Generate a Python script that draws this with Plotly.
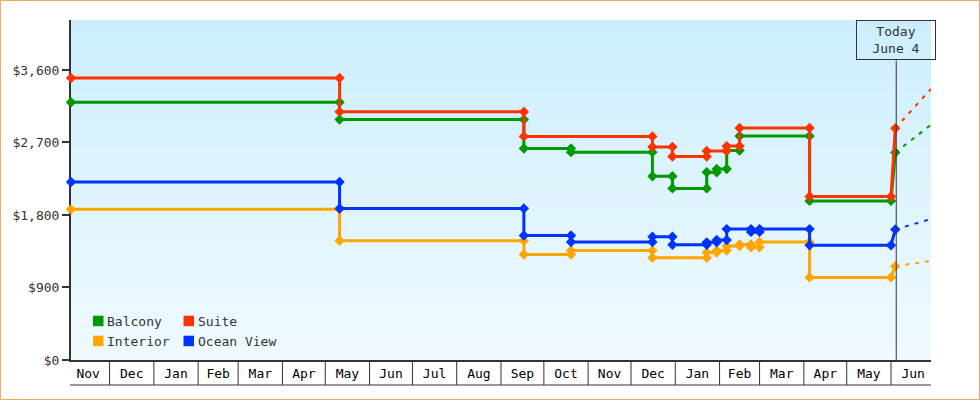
import base64, zlib, struct
import pandas as pd
import plotly.graph_objects as go

# ---------------- data ----------------
balcony_dates = ["2016-11-04", "2017-05-11", "2017-05-11", "2017-09-17", "2017-09-17",
                 "2017-10-20", "2017-10-20", "2017-12-16", "2017-12-16", "2017-12-30",
                 "2017-12-30", "2018-01-23", "2018-01-23", "2018-01-30", "2018-01-30",
                 "2018-02-06", "2018-02-06", "2018-02-15", "2018-02-15", "2018-04-05",
                 "2018-04-05", "2018-06-01", "2018-06-04"]
balcony_prices = [3200, 3200, 2985, 2985, 2625, 2625, 2580, 2580, 2280, 2280, 2130, 2130,
                  2330, 2330, 2370, 2370, 2600, 2600, 2780, 2780, 1975, 1975, 2575]

suite_dates = ["2016-11-04", "2017-05-11", "2017-05-11", "2017-09-17", "2017-09-17",
               "2017-12-16", "2017-12-16", "2017-12-30", "2017-12-30", "2018-01-23",
               "2018-01-23", "2018-02-06", "2018-02-06", "2018-02-15", "2018-02-15",
               "2018-04-05", "2018-04-05", "2018-06-01", "2018-06-04"]
suite_prices = [3500, 3500, 3080, 3080, 2775, 2775, 2645, 2645, 2525, 2525, 2595, 2595,
                2655, 2655, 2880, 2880, 2030, 2030, 2875]

interior_dates = ["2016-11-04", "2017-05-11", "2017-05-11", "2017-09-17", "2017-09-17",
                  "2017-10-20", "2017-10-20", "2017-12-16", "2017-12-16", "2018-01-23",
                  "2018-01-23", "2018-01-30", "2018-01-30", "2018-02-06", "2018-02-06",
                  "2018-02-15", "2018-02-15", "2018-02-23", "2018-02-23", "2018-03-01",
                  "2018-03-01", "2018-04-05", "2018-04-05", "2018-06-01", "2018-06-04"]
interior_prices = [1870, 1870, 1480, 1480, 1310, 1310, 1360, 1360, 1270, 1270, 1335, 1335,
                   1360, 1360, 1415, 1415, 1435, 1435, 1400, 1400, 1465, 1465, 1025, 1025, 1165]

ocean_dates = ["2016-11-04", "2017-05-11", "2017-05-11", "2017-09-17", "2017-09-17",
               "2017-10-20", "2017-10-20", "2017-12-16", "2017-12-16", "2017-12-30",
               "2017-12-30", "2018-01-23", "2018-01-23", "2018-01-30", "2018-01-30",
               "2018-02-06", "2018-02-06", "2018-02-23", "2018-02-23", "2018-03-01",
               "2018-03-01", "2018-04-05", "2018-04-05", "2018-06-01", "2018-06-04"]
ocean_prices = [2210, 2210, 1880, 1880, 1545, 1545, 1465, 1465, 1530, 1530, 1430, 1430,
                1460, 1460, 1490, 1490, 1625, 1625, 1590, 1590, 1625, 1625, 1425, 1425, 1620]

projection_end_date = "2018-06-29"
projection_end_prices = {"Balcony": 2920, "Suite": 3365, "Interior": 1230, "Ocean View": 1750}

series_names = ["Balcony", "Interior", "Suite", "Ocean View"]
series_colors = {"Balcony": "#009900", "Suite": "#ff3300", "Interior": "#ffa500", "Ocean View": "#0033ff"}
series_data = {
    "Balcony": (balcony_dates, balcony_prices),
    "Suite": (suite_dates, suite_prices),
    "Interior": (interior_dates, interior_prices),
    "Ocean View": (ocean_dates, ocean_prices),
}
legend_order = ["Balcony", "Suite", "Interior", "Ocean View"]

y_ticks = [0, 900, 1800, 2700, 3600]
y_tick_labels = ["$0", "$900", "$1,800", "$2,700", "$3,600"]
x_range = ["2016-11-04", "2018-06-29"]
y_range = [0, 4220]
today = "2018-06-04 16:00"
today_text = "Today<br>June 4"

# ---------------- layout geometry ----------------
W, H = 980, 400
ML, MR, MT, MB = 71, 49, 20, 40
PW, PH = W - ML - MR, H - MT - MB
FONT = "DejaVu Sans Mono"
TXT = "#333333"


def px_x(px):
    return (px - ML) / PW


def px_y(py):
    return (H - MB - py) / PH


def gradient_png(top, bottom, n=256):
    rows = b""
    for i in range(n):
        t = i / (n - 1)
        c = bytes(int(round(top[k] + (bottom[k] - top[k]) * t)) for k in range(3))
        rows += b"\x00" + c
    def chunk(tag, data):
        return struct.pack(">I", len(data)) + tag + data + struct.pack(">I", zlib.crc32(tag + data) & 0xffffffff)
    png = (b"\x89PNG\r\n\x1a\n" + chunk(b"IHDR", struct.pack(">IIBBBBB", 1, n, 8, 2, 0, 0, 0))
           + chunk(b"IDAT", zlib.compress(rows)) + chunk(b"IEND", b""))
    return "data:image/png;base64," + base64.b64encode(png).decode()


fig = go.Figure()

for name in series_names:
    d, p = series_data[name]
    fig.add_trace(go.Scatter(
        x=d, y=p, mode="lines+markers", name=name, showlegend=False,
        line=dict(color=series_colors[name], width=3),
        marker=dict(symbol="diamond", size=8, color=series_colors[name]),
        cliponaxis=False, hoverinfo="x+y+name",
    ))
    fig.add_trace(go.Scatter(
        x=[d[-1], projection_end_date], y=[p[-1], projection_end_prices[name]],
        mode="lines", showlegend=False, hoverinfo="skip",
        line=dict(color=series_colors[name], width=2, dash="4px,6px"),
    ))

# month box separators below the axis
month_starts = pd.date_range("2016-12-01", "2018-06-01", freq="MS")
shapes = []
for m in month_starts:
    shapes.append(dict(type="line", xref="x", yref="paper", x0=m, x1=m,
                       y0=0, y1=px_y(385), line=dict(color=TXT, width=1)))
shapes.append(dict(type="line", xref="paper", yref="paper", x0=px_x(70), x1=1,
                   y0=px_y(385), y1=px_y(385), line=dict(color=TXT, width=1)))
# today line
shapes.append(dict(type="line", xref="x", yref="paper", x0=today, x1=today,
                   y0=0, y1=px_y(60.5), line=dict(color=TXT, width=1)))
# outer border
shapes.append(dict(type="rect", xref="paper", yref="paper",
                   x0=px_x(0.5), x1=px_x(W - 0.5), y0=px_y(H - 0.5), y1=px_y(0.5),
                   line=dict(color="#e8a868", width=1), fillcolor="rgba(0,0,0,0)"))

annotations = [dict(xref="x", yref="paper", x=today, y=1, xanchor="center", yanchor="top",
                    text=today_text, showarrow=False, width=78, height=38, borderpad=0,
                    bordercolor=TXT, borderwidth=1, align="center",
                    font=dict(family=FONT, size=13, color=TXT))]

# manual legend (2 columns)
for i, name in enumerate(legend_order):
    col, row = i % 2, i // 2
    sx = 93 + col * 90.5
    sy = 315.7 + row * 20
    shapes.append(dict(type="rect", xref="paper", yref="paper",
                       x0=px_x(sx), x1=px_x(sx + 10.5), y0=px_y(sy + 10.5), y1=px_y(sy),
                       line=dict(width=0), fillcolor=series_colors[name]))
    annotations.append(dict(xref="paper", yref="paper", x=px_x(sx + 12), y=px_y(sy + 5.5),
                            xanchor="left", yanchor="middle", text=name, showarrow=False,
                            font=dict(family=FONT, size=13, color=TXT)))

fig.update_layout(
    width=W, height=H,
    margin=dict(l=ML, r=MR, t=MT, b=MB, autoexpand=False),
    paper_bgcolor="white", plot_bgcolor="rgba(0,0,0,0)",
    font=dict(family=FONT, size=13, color=TXT),
    showlegend=False,
    shapes=shapes, annotations=annotations,
    images=[dict(source=gradient_png((204, 238, 252), (240, 250, 255)),
                 xref="paper", yref="paper", x=0, y=1, sizex=1, sizey=1,
                 xanchor="left", yanchor="top", sizing="stretch", layer="below")],
    xaxis=dict(type="date", range=x_range, showgrid=False, zeroline=False,
               showline=True, linecolor=TXT, linewidth=2, ticks="",
               dtick="M1", tick0="2016-11-01", ticklabelmode="period", tickformat="%b",
               tickfont=dict(family=FONT, size=13, color="#000000"), layer="below traces"),
    yaxis=dict(range=y_range, showgrid=False, zeroline=False, showline=True,
               linecolor=TXT, linewidth=2, ticks="outside", ticklen=7, tickwidth=2,
               tickcolor=TXT, tickvals=y_ticks, ticktext=y_tick_labels,
               tickfont=dict(family=FONT, size=13, color=TXT), layer="below traces"),
)

fig.write_html("out.html")
